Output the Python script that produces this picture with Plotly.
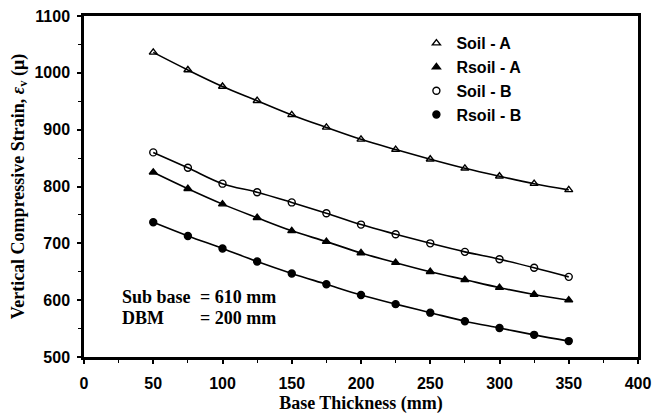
import plotly.graph_objects as go

thickness = [50, 75, 100, 125, 150, 175, 200, 225, 250, 275, 300, 325, 350]
soil_a = [1036, 1005, 976, 951, 926, 904, 883, 865, 848, 832, 818, 805, 794]
rsoil_a = [825, 796, 769, 745, 722, 703, 683, 666, 650, 636, 622, 610, 600]
soil_b = [860, 833, 805, 790, 772, 753, 733, 716, 700, 685, 672, 657, 641]
rsoil_b = [737, 713, 691, 668, 647, 628, 609, 593, 578, 563, 551, 539, 528]

series = [
    ("Soil - A", soil_a, "triangle-up-open"),
    ("Rsoil - A", rsoil_a, "triangle-up"),
    ("Soil - B", soil_b, "circle-open"),
    ("Rsoil - B", rsoil_b, "circle"),
]

fig = go.Figure()
for name, vals, sym in series:
    fig.add_trace(go.Scatter(x=thickness, y=vals, mode="lines",
                             line=dict(color="black", width=1.6, shape="spline"),
                             showlegend=False, hoverinfo="skip"))
for name, vals, sym in series:
    fig.add_trace(go.Scatter(x=thickness, y=vals, mode="markers", name=name,
                             marker=dict(symbol=sym, size=7, color="black",
                                         line=dict(color="black", width=1.4))))

axis_font = dict(family="Liberation Sans, Arial", size=16, color="black", weight="bold")
title_font = dict(family="Liberation Serif, Times New Roman", size=18, color="black", weight="bold")

fig.update_xaxes(range=[0, 400], dtick=50, tick0=0, automargin=False,
                 showline=True, linecolor="black", linewidth=2.5, mirror=True,
                 ticks="outside", ticklen=4, tickwidth=1.5, tickcolor="black",
                 minor=dict(dtick=25, ticks="outside", ticklen=3, tickwidth=1, tickcolor="black"),
                 showgrid=False, zeroline=False,
                 tickfont=axis_font, ticklabelstandoff=6,
                 title=dict(text="Base Thickness (mm)", font=title_font, standoff=6))
fig.update_yaxes(range=[500, 1100], dtick=100, tick0=500, automargin=False,
                 showline=True, linecolor="black", linewidth=2.5, mirror=True,
                 ticks="outside", ticklen=4, tickwidth=1.5, tickcolor="black",
                 minor=dict(dtick=50, ticks="outside", ticklen=3, tickwidth=1, tickcolor="black"),
                 showgrid=False, zeroline=False,
                 tickfont=axis_font, ticklabelstandoff=4,
                 title=dict(text="Vertical Compressive Strain, <i>ε</i><sub>v</sub> (μ)",
                            font=title_font, standoff=6))

ann_font = dict(family="Liberation Serif, Times New Roman", size=18, color="black", weight="bold")
for txt, x, y in [("Sub base", 26, 605), ("= 610 mm", 82, 605),
                  ("DBM", 26, 569), ("= 200 mm", 82, 569)]:
    fig.add_annotation(x=x, y=y, text=txt, showarrow=False, xanchor="left",
                       yanchor="middle", font=ann_font)

fig.update_layout(
    width=652, height=416,
    margin=dict(l=84, r=14, t=16, b=59),
    paper_bgcolor="white", plot_bgcolor="white",
    font=dict(family="Liberation Sans, Arial", color="black"),
    legend=dict(x=0.6, y=0.97, xanchor="left", yanchor="top",
                font=dict(family="Liberation Sans, Arial", size=16, color="black", weight="bold"),
                bgcolor="rgba(0,0,0,0)", tracegroupgap=0, itemwidth=30),
    showlegend=True,
)

fig.write_html("out.html")
